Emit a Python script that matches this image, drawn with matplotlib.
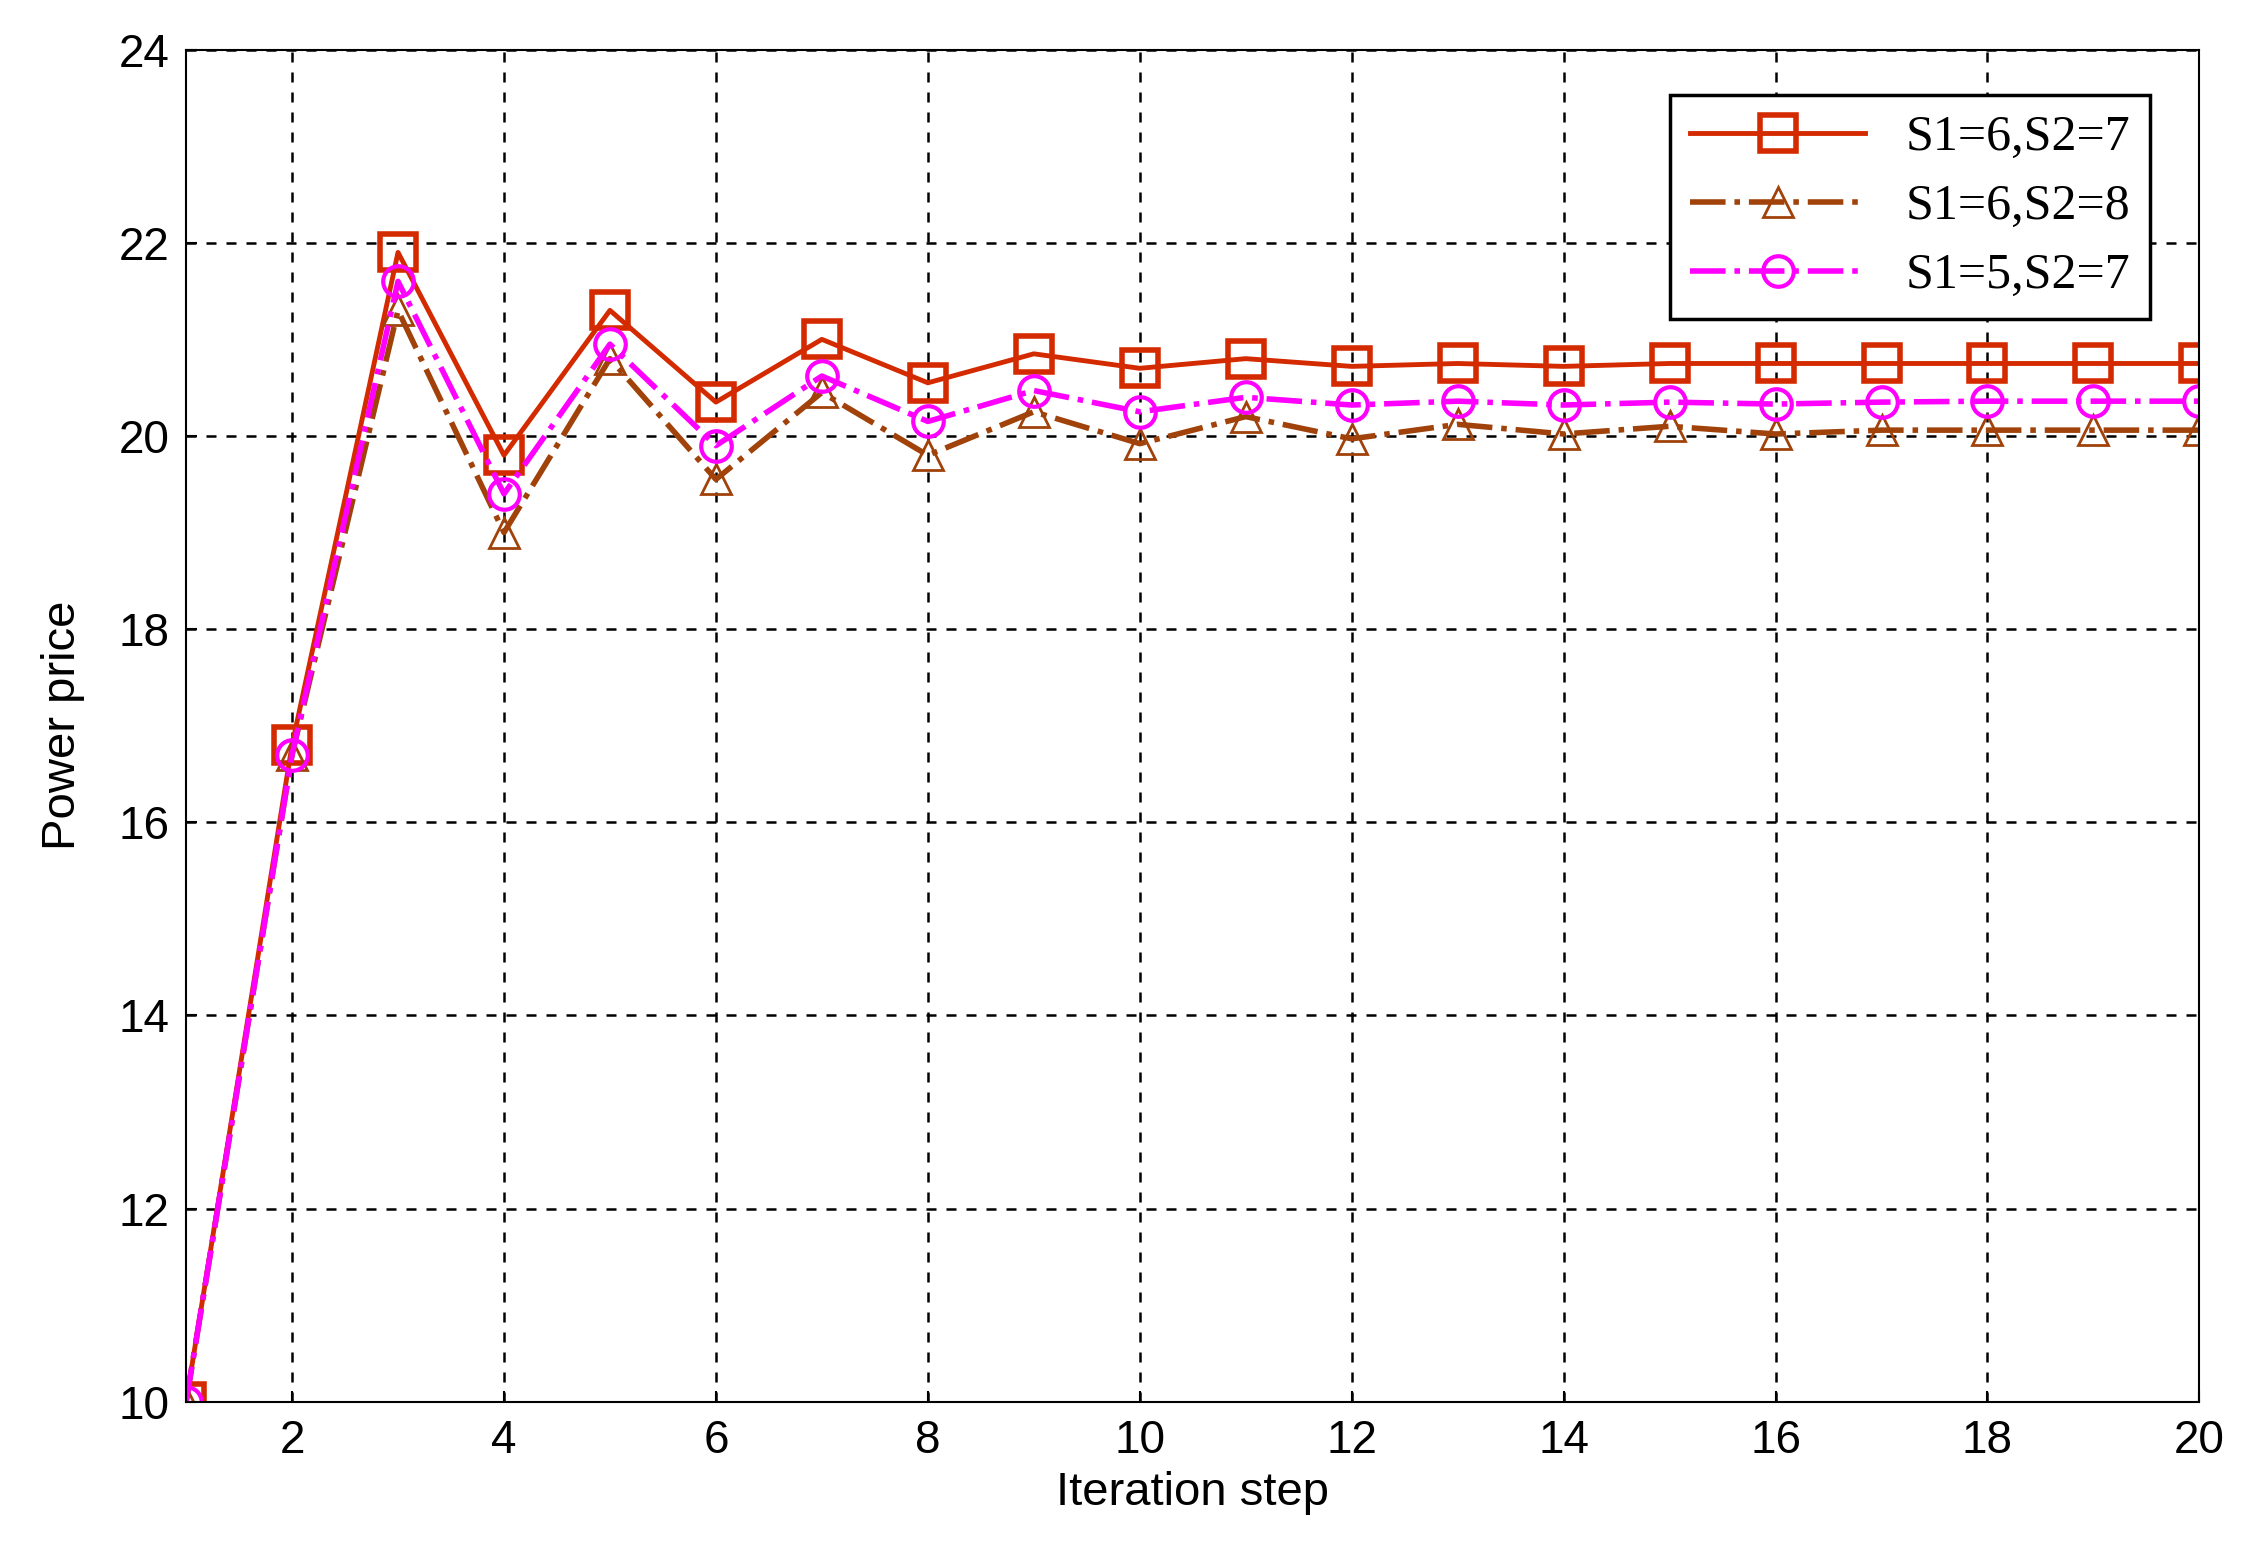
import matplotlib
matplotlib.use("Agg")
from matplotlib import pyplot as plt

steps = list(range(1, 21))
s67 = [10, 16.8, 21.9, 19.8, 21.3, 20.35, 21.0, 20.55, 20.85, 20.7, 20.8, 20.72, 20.75, 20.72, 20.75, 20.75, 20.75, 20.75, 20.75, 20.75]
s68 = [10, 16.7, 21.3, 19.0, 20.8, 19.55, 20.45, 19.8, 20.25, 19.92, 20.2, 19.97, 20.12, 20.02, 20.1, 20.02, 20.06, 20.06, 20.06, 20.06]
s57 = [10, 16.7, 21.6, 19.4, 20.95, 19.9, 20.62, 20.15, 20.47, 20.25, 20.4, 20.32, 20.36, 20.32, 20.35, 20.33, 20.35, 20.36, 20.36, 20.36]

fig = plt.figure(figsize=(22.42, 15.49), dpi=100, facecolor='w')
ax = fig.add_axes([0.083, 0.095, 0.898, 0.873])

ax.plot(steps, s67, color='#D42A00', lw=3.5, ls='-', marker='s', ms=26, mfc='none', mew=4, label='S1=6,S2=7')
ax.plot(steps, s68, color='#A0420A', lw=4, ls='-.', marker='^', ms=22, mfc='none', mew=2, label='S1=6,S2=8')
ax.plot(steps, s57, color='#FF00FF', lw=4, ls='-.', marker='o', ms=22, mfc='none', mew=3, label='S1=5,S2=7')

ax.set_xlim(1, 20)
ax.set_ylim(10, 24)
ax.set_xticks(range(2, 21, 2))
ax.set_yticks(range(10, 25, 2))
ax.grid(True, color='black', ls=(0, (4, 4)), lw=1.8)
ax.tick_params(labelsize=33, direction='in', length=8, width=1.5, pad=12)
for lab in ax.get_xticklabels() + ax.get_yticklabels():
    lab.set_fontfamily('Liberation Sans')
for s in ax.spines.values():
    s.set_linewidth(1.5)
ax.set_xlabel('Iteration step', fontsize=34, family='Liberation Sans', labelpad=6)
ax.set_ylabel('Power price', fontsize=34, family='Liberation Sans', labelpad=24)

leg = ax.legend(loc='upper right', prop={'family': 'Liberation Serif', 'size': 36},
                fancybox=False, edgecolor='black', framealpha=1, handlelength=3.5,
                borderpad=0.4, labelspacing=0.45, bbox_to_anchor=(0.988, 0.985))
leg.get_frame().set_linewidth(2.5)

plt.savefig('out.png', dpi=100)
